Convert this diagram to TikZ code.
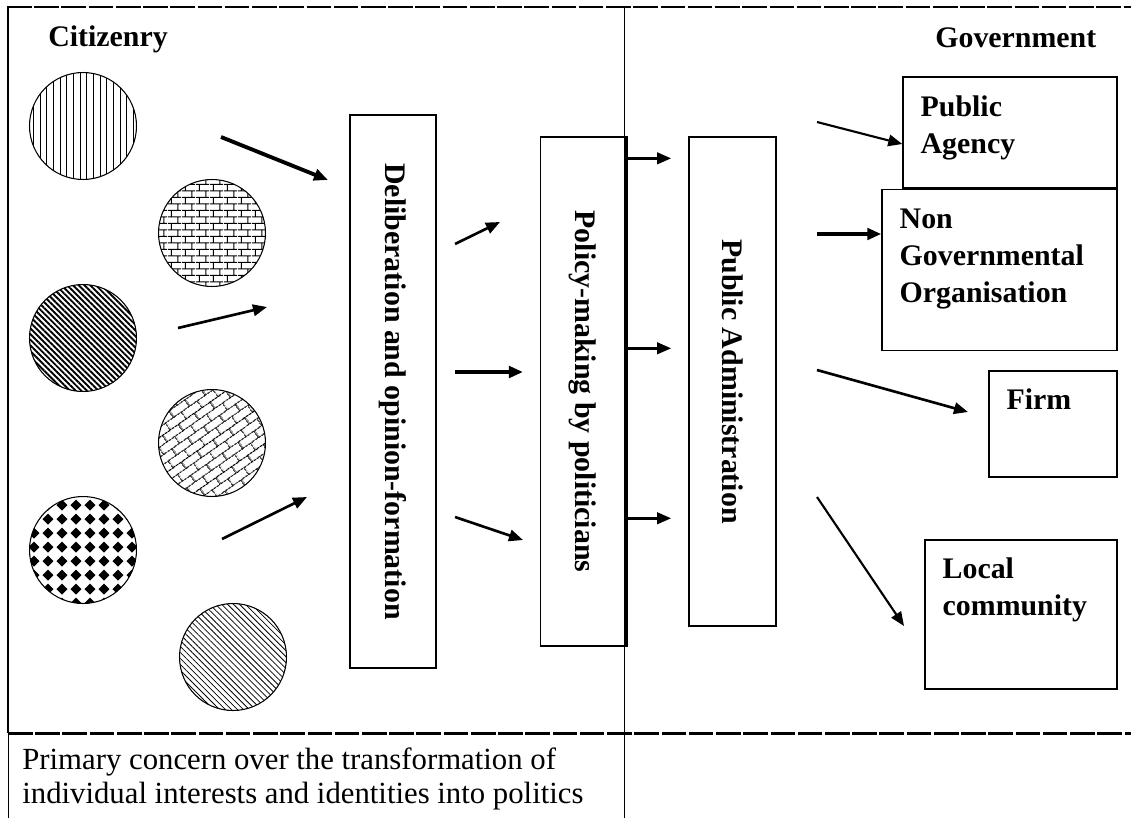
\documentclass[tikz,border=0pt]{standalone}
\usepackage{fontspec}
\setmainfont{Liberation Serif}
\usetikzlibrary{positioning,arrows.meta,patterns.meta}

\newcommand{\diagfont}{\fontsize{17}{21}\selectfont\bfseries}
\newcommand{\notefont}{\fontsize{17.5}{19.5}\selectfont}

% fill patterns of the citizens
\tikzdeclarepattern{
  name=brickwall,
  type=uncolored,
  bounding box={(0pt,0pt) and (8pt,7.6pt)},
  tile size={(8pt,7.6pt)},
  code={
    \draw[line width=0.55pt] (0pt,1.9pt) -- (8pt,1.9pt) (0pt,5.7pt) -- (8pt,5.7pt)
      (2pt,1.9pt) -- (2pt,5.7pt) (6pt,5.7pt) -- (6pt,7.6pt) (6pt,0pt) -- (6pt,1.9pt);
  }
}
\tikzdeclarepattern{
  name=tiltedbricks,
  type=uncolored,
  bounding box={(0pt,0pt) and (11pt,9pt)},
  tile size={(11pt,9pt)},
  tile transformation={rotate=35},
  code={
    \draw[line width=0.6pt] (0pt,2.25pt) -- (11pt,2.25pt) (0pt,6.75pt) -- (11pt,6.75pt)
      (2.75pt,2.25pt) -- (2.75pt,6.75pt) (8.25pt,6.75pt) -- (8.25pt,9pt) (8.25pt,0pt) -- (8.25pt,2.25pt);
  }
}
\tikzdeclarepattern{
  name=diamonds,
  type=uncolored,
  bounding box={(0pt,0pt) and (7.9pt,7.9pt)},
  tile size={(7.9pt,7.9pt)},
  code={
    \fill (3.95pt,0.8pt) -- (7.1pt,3.95pt) -- (3.95pt,7.1pt) -- (0.8pt,3.95pt) -- cycle;
  }
}

\begin{document}
\begin{tikzpicture}[x=0.02cm,y=-0.02cm,node distance=1cm]
        \tikzstyle{citizen} = [circle, draw=black, line width=0.6pt, minimum size=2.14cm, inner sep=0pt]
        \tikzstyle{box} = [rectangle, draw=black, line width=0.8pt, inner sep=0pt, font=\diagfont]
        \tikzstyle{boxtext} = [font=\diagfont, align=left, inner sep=0pt]
        \tikzstyle{frame} = [line width=1.7pt, dash pattern=on 14pt off 1.5pt]
        \tikzstyle{arr} = [-{Triangle[length=8pt,width=6.5pt]}, line width=1.5pt]
        \tikzstyle{bigarr} = [arr, line width=2.2pt]

        \useasboundingbox (0,0) rectangle (1131,818);

        % frame of the two columns
        \draw [frame] (7,7) -- (1131,7);
        \draw [frame] (8,733) -- (1131,733);
        \draw [line width=1.7pt] (8,7) -- (8,733);
        \draw [line width=0.5pt] (8,733) -- (8,818);
        \draw [line width=0.6pt] (624.5,7) -- (624.5,818);

        \node (citizenry) [boxtext, anchor=base west] at (48,46) {Citizenry};
        \node (government) [boxtext, anchor=base west] at (935,47) {Government};

        % citizens
        \node (cit1) [citizen, pattern={Lines[angle=90,distance=3.8pt,line width=0.6pt]}] at (83,126) {};
        \node (cit2) [citizen, pattern=brickwall] at (212,233) {};
        \node (cit3) [citizen, pattern={Lines[angle=-45,distance=2.3pt,line width=1.1pt]}] at (83,338) {};
        \node (cit4) [citizen, pattern=tiltedbricks] at (212,443) {};
        \node (cit5) [citizen, pattern=diamonds] at (83,550) {};
        \node (cit6) [citizen, pattern={Lines[angle=-45,distance=2.4pt,line width=0.45pt]}] at (233,657) {};

        % process boxes
        \node (delib) [box, minimum width=1.72cm, minimum height=11.06cm] at (393,391.5)
            {\rotatebox{-90}{Deliberation and opinion-formation}};
        \node (policy) [box, minimum width=1.7cm, minimum height=10.18cm] at (583,391.5)
            {\rotatebox{-90}{Policy-making by politicians}};
        \node (admin) [box, minimum width=1.74cm, minimum height=9.78cm] at (732.5,381.5)
            {\rotatebox{-90}{Public Administration}};
        \draw [line width=1.6pt] (policy.north east) -- (policy.south east);

        % government bodies
        \node (agency) [box, minimum width=4.28cm, minimum height=2.22cm] at (1010,132.5) {};
        \node (ngo) [box, anchor=north east, minimum width=4.7cm, minimum height=3.22cm] at (agency.south east) {};
        \node (firm) [box, minimum width=2.56cm, minimum height=2.12cm] at (1053,424) {};
        \node (local) [box, minimum width=3.84cm, minimum height=2.98cm] at (1021,614.5) {};

        \node (agencytext) [boxtext, below right=0.38cm and 0.36cm of agency.north west] {Public\\Agency};
        \node (ngotext) [boxtext, below right=0.4cm and 0.36cm of ngo.north west] {Non\\Governmental\\Organisation};
        \node (firmtext) [boxtext, below right=0.36cm and 0.36cm of firm.north west] {Firm};
        \node (localtext) [boxtext, below right=0.36cm and 0.36cm of local.north west] {Local\\community};

        \node (concern) [font=\notefont, align=left, inner sep=0pt, anchor=north west] at (22,747)
            {Primary concern over the transformation of\\individual interests and identities into politics};

        % arrow ends
        \coordinate (a1s) at (221,137); \coordinate (a1e) at (328,180);
        \coordinate (a2s) at (178,328); \coordinate (a2e) at (267,307);
        \coordinate (a3s) at (222,539); \coordinate (a3e) at (307,497);
        \coordinate (b1s) at (455,244); \coordinate (b1e) at (500,222);
        \coordinate (b2s) at (455,372); \coordinate (b2e) at (523,372);
        \coordinate (b3s) at (455,517); \coordinate (b3e) at (523,540);
        \coordinate (d1s) at (817,122);
        \coordinate (d2s) at (817,234);
        \coordinate (d3s) at (817,370); \coordinate (d3e) at (968,412);
        \coordinate (d4s) at (817,497); \coordinate (d4e) at (904,626);

        \draw [bigarr] (a1s) -- (a1e);
        \draw [arr] (a2s) -- (a2e);
        \draw [arr] (a3s) -- (a3e);
        \draw [arr] (b1s) -- (b1e);
        \draw [bigarr] (b2s) -- (b2e);
        \draw [arr] (b3s) -- (b3e);
        \draw [arr] ([yshift=-0.44cm]policy.north east) -- ++(45,0);
        \draw [arr] ([yshift=-4.24cm]policy.north east) -- ++(45,0);
        \draw [arr] ([yshift=-7.64cm]policy.north east) -- ++(45,0);
        \draw [arr, line width=1.2pt] (d1s) -- ([yshift=-0.23cm]agency.west);
        \draw [bigarr] (d2s) -- (d2s -| ngo.west);
        \draw [arr] (d3s) -- (d3e);
        \draw [arr, line width=1.2pt] (d4s) -- (d4e);
    \end{tikzpicture}
\end{document}
